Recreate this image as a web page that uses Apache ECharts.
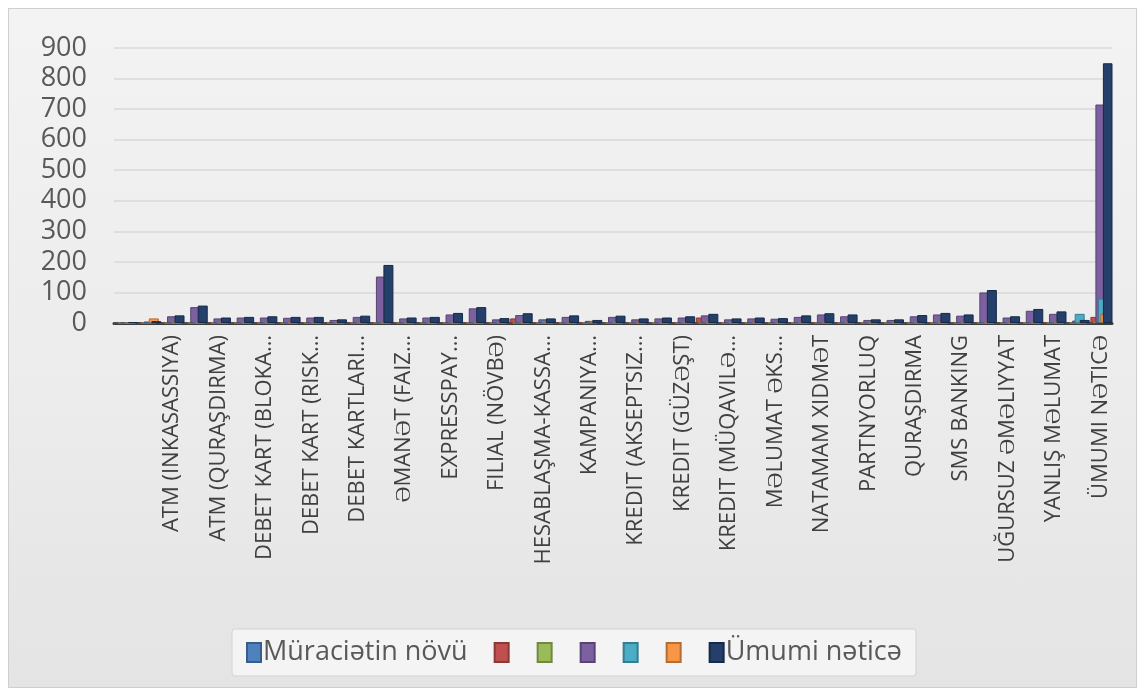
<!DOCTYPE html>
<html>
<head>
<meta charset="utf-8">
<script src="https://cdn.jsdelivr.net/npm/echarts@6/dist/echarts.min.js"></script>
<style>
  html, body { margin: 0; padding: 0; background: #ffffff; }
  #frame { position: absolute; left: 8px; top: 8px; width: 1127px; height: 678px;
           border: 1px solid #cfcfcf;
           background: linear-gradient(180deg, #f3f3f3 0%, #ececec 55%, #e4e4e4 100%); }
  #chart { position: absolute; left: 0; top: 0; width: 1145px; height: 696px; }
</style>
</head>
<body>
<div id="frame"></div>
<div id="chart"></div>
<script>
// Category tick labels (every other category is labelled in the reference; hidden ones are blank)
const categories = [
  "", "", "ATM (INKASASSIYA)", "", "ATM (QURAŞDIRMA)", "", "DEBET KART (BLOKA…", "",
  "DEBET KART (RISK…", "", "DEBET KARTLARI…", "", "ƏMANƏT (FAIZ…", "", "EXPRESSPAY…", "",
  "FILIAL (NÖVBƏ)", "", "HESABLAŞMA-KASSA…", "", "KAMPANIYA…", "", "KREDIT (AKSEPTSIZ…", "",
  "KREDIT (GÜZƏŞT)", "", "KREDIT (MÜQAVILƏ…", "", "MƏLUMAT ƏKS…", "", "NATAMAM XIDMƏT", "",
  "PARTNYORLUQ", "", "QURAŞDIRMA", "", "SMS BANKING", "", "UĞURSUZ ƏMƏLIYYAT", "",
  "YANLIŞ MƏLUMAT", "", "ÜMUMI NƏTICƏ"
];

const seriesNames = ["Müraciətin növü", "\u200b", "\u200b\u200b", "\u200b\u200b\u200b", "\u200b\u200b\u200b\u200b", "\u200b\u200b\u200b\u200b\u200b", "Ümumi nəticə"];

const muraciet = [0,0,0,0,0,0,0,0,0,0,0,0,0,0,0,0,0,0,0,0,0,0,0,0,0,0,0,0,0,0,0,0,0,0,0,0,0,0,0,0,0,0,0];
const redVals  = [0,0,0,0,0,0,0,0,0,0,0,0,0,0,0,0,0,15,0,0,0,0,0,0,0,18,0,0,0,0,0,0,0,0,0,0,0,0,0,0,0,0,20];
const greenVals= [0,0,0,0,0,0,0,0,0,0,0,0,0,0,0,0,0,0,0,0,0,0,0,0,0,0,0,0,0,0,0,0,0,0,0,0,0,0,0,0,0,0,5];
const purpleVals=[2,5,22,52,15,18,18,17,18,10,20,152,15,18,28,48,12,26,12,20,7,20,12,15,18,25,12,15,14,20,28,22,10,10,22,28,24,100,18,40,30,8,715];
const cyanVals = [0,0,0,0,0,0,0,0,0,0,0,0,0,0,0,0,0,0,8,0,0,0,0,0,0,0,0,0,0,0,0,0,0,0,0,0,0,0,0,0,0,30,80];
const orangeVals=[0,15,0,0,0,0,0,0,0,0,0,0,0,0,0,0,0,0,0,0,6,0,0,0,0,0,0,0,0,0,0,0,0,0,0,0,0,0,0,0,0,0,30];
const totalVals= [3,6,25,57,18,20,22,20,20,12,24,190,18,20,33,52,16,32,15,25,10,24,15,18,22,30,15,18,16,25,32,28,12,12,26,33,28,108,22,46,38,10,850];

const yTicks = { min: 0, max: 900, interval: 100 };

const colors = ["#4F81BD", "#C0504D", "#9BBB59", "#7D60A0", "#4BACC6", "#F79646", "#24406A"];
const borders = ["#385D8A", "#8C3836", "#71893F", "#584472", "#357D91", "#B66D31", "#142A48"];
const values = [muraciet, redVals, greenVals, purpleVals, cyanVals, orangeVals, totalVals];

const chart = echarts.init(document.getElementById('chart'), null, { renderer: 'canvas' });

const series = seriesNames.map((name, i) => ({
  name: name,
  type: 'bar',
  data: values[i],
  barWidth: 10,
  barGap: '-75%',
  itemStyle: { color: colors[i], borderColor: borders[i], borderWidth: 1 },
  emphasis: { disabled: true }
}));

chart.setOption({
  animation: false,
  backgroundColor: 'transparent',
  textStyle: { fontFamily: 'Open Sans' },
  grid: { left: 114, right: 33, top: 48, bottom: 373, containLabel: false },
  legend: {
    left: 232,
    top: 629,
    padding: [10, 14, 10, 14],
    itemWidth: 14,
    itemHeight: 19,
    itemGap: 26,
    backgroundColor: '#f4f4f4',
    borderColor: '#d2d2d2',
    borderWidth: 1,
    borderRadius: 3,
    textStyle: { fontSize: 27, color: '#595959', fontFamily: 'Open Sans', padding: [0, 0, 0, -3] },
    data: seriesNames.map(n => ({ name: n, icon: 'rect' }))
  },
  xAxis: {
    type: 'category',
    data: categories,
    axisLine: { show: true, lineStyle: { color: '#3b3b3b', width: 3 } },
    axisTick: { show: false },
    axisLabel: {
      interval: 0,
      rotate: 90,
      margin: 12,
      fontSize: 22,
      color: '#404040',
      fontFamily: 'Open Sans'
    }
  },
  yAxis: {
    type: 'value',
    min: yTicks.min,
    max: yTicks.max,
    interval: yTicks.interval,
    axisLine: { show: false },
    axisTick: { show: false },
    axisLabel: { fontSize: 27, color: '#595959', margin: 27, fontFamily: 'Open Sans' },
    splitLine: { lineStyle: { color: '#d9d9d9', width: 1.5 } }
  },
  series: series
});
</script>
</body>
</html>
